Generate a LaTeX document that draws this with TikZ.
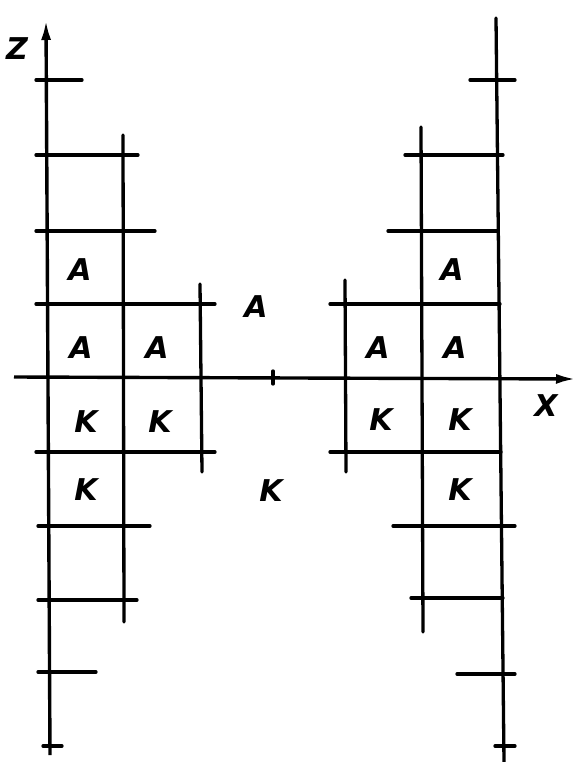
\documentclass[tikz,border=0pt]{standalone}
\usepackage{fontspec}
\setsansfont{DejaVu Sans}
\usetikzlibrary{arrows.meta}
\begin{document}
\begin{tikzpicture}[x=1pt,y=-1pt,
  ln/.style={line width=3.3pt,line cap=round},
  lbl/.style={font=\sffamily\bfseries\itshape\fontsize{30}{32}\selectfont},
  ax/.style={line width=3.4pt,-{Latex[length=20pt,width=10pt]}}]
\useasboundingbox[fill=white] (0,0) rectangle (576,762);
% axes
\coordinate (zb) at (50,755);
\coordinate (zt) at (46,20);
\coordinate (xl) at (14,377);
\coordinate (xr) at (576,379);
\draw[ax] (zb) -- (zt);
\draw[ax] (xl) -- (xr);
\node[lbl] (zlab) at (17,49) {Z};
\node[lbl] (xlab) at (546,406) {X};
\draw[ln] (273,371) -- (273,384);
% left structure
\draw[ln] (123,135) -- (124,622);
\draw[ln] (200,284) -- (202,472);
\foreach \y/\a/\b in {80/36/82,155/36/138,231/36/155,304/36/215,452/36/215,526/38/150,600/38/137,672/38/96,746/43/62}
  \draw[ln] (\a,\y) -- (\b,\y);
% right structure
\draw[ln] (496,18) -- (504,762);
\draw[ln] (421,127) -- (423,632);
\draw[ln] (345,280) -- (346,472);
\foreach \y/\a/\b in {80/470/515,155/405/503,231/388/498,304/330/500,452/330/501,526/393/515,598/411/503,674/457/515,746/495/515}
  \draw[ln] (\a,\y) -- (\b,\y);
% labels
\node[lbl] (la1) at (80,270) {A};
\node[lbl] (la2) at (81,348) {A};
\node[lbl] (la3) at (157,348) {A};
\node[lbl] (lk1) at (86,422) {K};
\node[lbl] (lk2) at (160,422) {K};
\node[lbl] (lk3) at (86,490) {K};
\node[lbl] (ma) at (256,307) {A};
\node[lbl] (mk) at (271,491) {K};
\node[lbl] (ra1) at (452,270) {A};
\node[lbl] (ra2) at (378,348) {A};
\node[lbl] (ra3) at (455,348) {A};
\node[lbl] (rk1) at (381,420) {K};
\node[lbl] (rk2) at (460,420) {K};
\node[lbl] (rk3) at (460,490) {K};
\end{tikzpicture}
\end{document}
